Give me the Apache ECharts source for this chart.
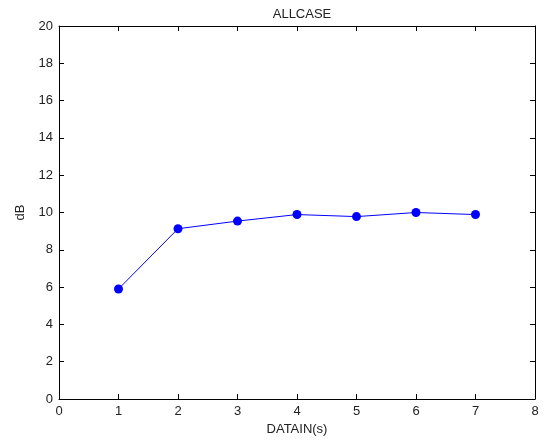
<!DOCTYPE html>
<html>
<head>
<meta charset="utf-8">
<script src="https://cdn.jsdelivr.net/npm/echarts@6/dist/echarts.min.js"></script>
<style>
  html, body { margin: 0; padding: 0; background: #fff; }
  #chart { width: 547px; height: 441px; }
</style>
</head>
<body>
<div id="chart"></div>
<script>
const xValues = [1, 2, 3, 4, 5, 6, 7]
const dbValues = [5.9, 9.13, 9.54, 9.89, 9.78, 10.0, 9.89]

const font = 'Liberation Sans, Arial, sans-serif'
const textColor = '#222'

const chart = echarts.init(document.getElementById('chart'))

// hidden-label copies of the axes draw the top and right edges with ticks
const boxAxis = {
  min: 0,
  axisLine: { show: true, onZero: false, lineStyle: { color: '#000', width: 1 } },
  axisTick: { show: true, inside: true, length: 5, lineStyle: { color: '#000' } },
  axisLabel: { show: false },
  splitLine: { show: false }
}

const options = {
  animation: false,
  title: {
    text: 'ALLCASE',
    left: 297,
    top: 3,
    textAlign: 'center',
    textStyle: { fontFamily: font, fontSize: 13, fontWeight: 'normal', color: textColor }
  },
  grid: { left: 59, right: 12, top: 26, bottom: 42, containLabel: false },
  xAxis: [
    {
      type: 'value',
      min: 0,
      max: 8,
      interval: 1,
      name: 'DATAIN(s)',
      nameLocation: 'middle',
      nameGap: 24,
      nameTextStyle: { fontFamily: font, fontSize: 13, color: textColor },
      axisLine: { show: true, onZero: false, lineStyle: { color: '#000', width: 1 } },
      axisTick: { show: true, inside: true, length: 5, lineStyle: { color: '#000' } },
      axisLabel: { fontFamily: font, fontSize: 13, color: textColor, margin: 6 },
      splitLine: { show: false }
    },
    Object.assign({ type: 'value', position: 'top', max: 8, interval: 1 }, boxAxis)
  ],
  yAxis: [
    {
      type: 'value',
      min: 0,
      max: 20,
      interval: 2,
      name: 'dB',
      nameLocation: 'middle',
      nameGap: 32,
      nameTextStyle: { fontFamily: font, fontSize: 13, color: textColor },
      axisLine: { show: true, onZero: false, lineStyle: { color: '#000', width: 1 } },
      axisTick: { show: true, inside: true, length: 5, lineStyle: { color: '#000' } },
      axisLabel: { fontFamily: font, fontSize: 13, color: textColor, margin: 6 },
      splitLine: { show: false }
    },
    Object.assign({ type: 'value', position: 'right', max: 20, interval: 2 }, boxAxis)
  ],
  series: [
    {
      name: 'dB',
      type: 'line',
      data: xValues.map((x, i) => [x, dbValues[i]]),
      symbol: 'circle',
      symbolSize: 9,
      lineStyle: { color: '#0000ff', width: 1 },
      itemStyle: { color: '#0000ff' }
    }
  ]
}

chart.setOption(options)
</script>
</body>
</html>
